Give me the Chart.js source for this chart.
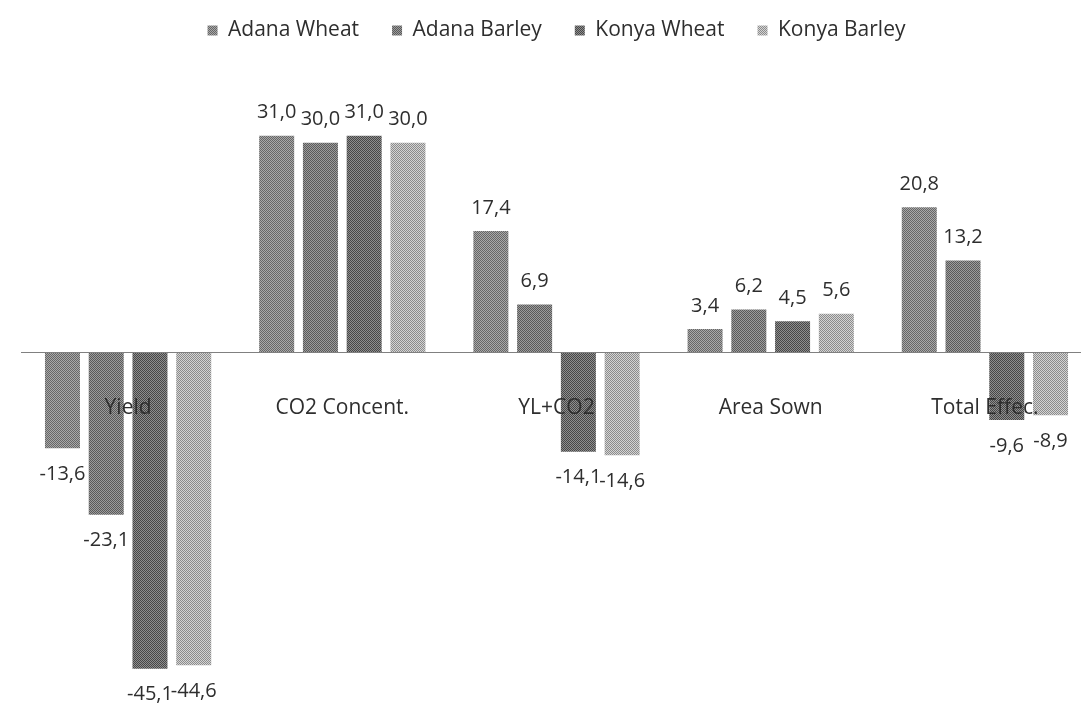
<!DOCTYPE html>
<html>
<head>
<meta charset="utf-8">
<script src="https://cdn.jsdelivr.net/npm/chart.js@4"></script>
<style>
    body { margin: 0; background: #fff; overflow: hidden; }
    #wrap { position: relative; width: 1100px; height: 720px; }
</style>
</head>
<body>
<div id="wrap"><canvas id="chart"></canvas></div>
<script>
// -----------------------------
// DATA
// -----------------------------
const categories = ["Yield", "CO2 Concent.", "YL+CO2", "Area Sown", "Total Effec."];
const seriesNames = ["Adana Wheat", "Adana Barley", "Konya Wheat", "Konya Barley"];

const adanaWheat  = [-13.6, 31.0, 17.4, 3.4, 20.8];
const adanaBarley = [-23.1, 30.0, 6.9, 6.2, 13.2];
const konyaWheat  = [-45.1, 31.0, -14.1, 4.5, -9.6];
const konyaBarley = [-44.6, 30.0, -14.6, 5.6, -8.9];

const seriesValues = [adanaWheat, adanaBarley, konyaWheat, konyaBarley];

// dark / light pixel of the screened grey fill
const shades = [
    ["#666666", "#a8a8a8"],
    ["#5a5a5a", "#9c9c9c"],
    ["#474747", "#8e8e8e"],
    ["#8c8c8c", "#d4d4d4"]
];

const FONT = "'Open Sans', 'DejaVu Sans', sans-serif";
const TEXT = "#2e2e2e";


// -----------------------------
// HELPERS
// -----------------------------
function makePattern(dark, light) {
    const c = document.createElement("canvas");
    c.width = 2;
    c.height = 2;
    const g = c.getContext("2d");
    g.fillStyle = light;
    g.fillRect(0, 0, 2, 2);
    g.fillStyle = dark;
    g.fillRect(0, 0, 1, 1);
    g.fillRect(1, 1, 1, 1);
    return g.createPattern(c, "repeat");
}

function fmt(v) {
    return v.toFixed(1).replace(".", ",");
}

// value labels above / below each bar
const valueLabels = {
    id: "valueLabels",
    afterDatasetsDraw(chart) {
        const ctx = chart.ctx;
        ctx.save();
        ctx.font = "20px " + FONT;
        ctx.fillStyle = TEXT;
        ctx.textAlign = "center";
        ctx.textBaseline = "middle";
        chart.data.datasets.forEach((ds, i) => {
            const meta = chart.getDatasetMeta(i);
            meta.data.forEach((bar, j) => {
                const v = ds.data[j];
                const y = v >= 0 ? bar.y - 23 : bar.y + 26;
                ctx.fillText(fmt(v), bar.x, y);
            });
        });
        ctx.restore();
    }
};


// -----------------------------
// CHART
// -----------------------------
const ctx = document.getElementById("chart").getContext("2d");

new Chart(ctx, {
    type: "bar",
    data: {
        labels: categories,
        datasets: seriesNames.map((name, i) => ({
            label: name,
            data: seriesValues[i],
            backgroundColor: makePattern(shades[i][0], shades[i][1]),
            borderWidth: 0,
            categoryPercentage: 0.817,
            barPercentage: 0.8
        }))
    },
    options: {
        responsive: true,
        maintainAspectRatio: false,
        animation: false,
        layout: {
            padding: { left: 21, right: 8, top: -13, bottom: 5 }
        },
        plugins: {
            legend: {
                position: "top",
                labels: {
                    boxWidth: 10,
                    boxHeight: 10,
                    padding: 33,
                    color: TEXT,
                    font: { family: FONT, size: 21 }
                }
            },
            tooltip: { enabled: false }
        },
        scales: {
            x: {
                position: { y: 0 },
                grid: { display: false, drawTicks: false },
                border: { display: true, color: "#808080", width: 1, dash: [1, 2], z: 1 },
                ticks: {
                    z: 1,
                    color: TEXT,
                    padding: 43,
                    font: { family: FONT, size: 21 }
                }
            },
            y: {
                display: false,
                min: -51.7,
                max: 43.1
            }
        }
    },
    plugins: [valueLabels]
});
</script>
</body>
</html>
